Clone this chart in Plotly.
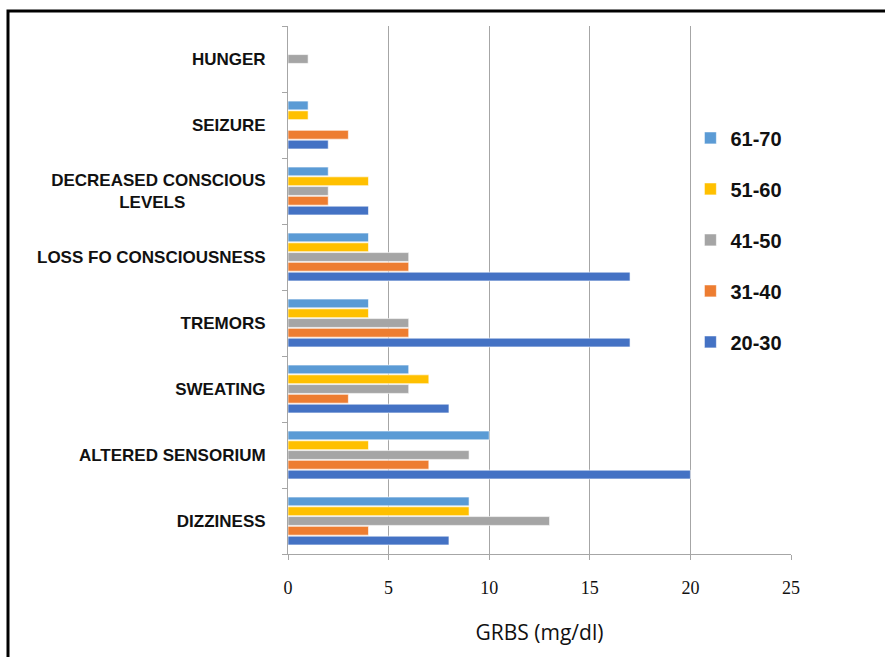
import plotly.graph_objects as go

categories = ["DIZZINESS", "ALTERED SENSORIUM", "SWEATING", "TREMORS",
              "LOSS FO CONSCIOUSNESS", "DECREASED CONSCIOUS LEVELS", "SEIZURE", "HUNGER"]
tick_text = ["DIZZINESS", "ALTERED SENSORIUM", "SWEATING", "TREMORS",
             "LOSS FO CONSCIOUSNESS",
             "DECREASED CONSCIOUS<br>LEVELS" + "\u00a0" * 17, "SEIZURE", "HUNGER"]

series_names = ["20-30", "31-40", "41-50", "51-60", "61-70"]
v_20_30 = [8, 20, 8, 17, 17, 4, 2, 0]
v_31_40 = [4, 7, 3, 6, 6, 2, 3, 0]
v_41_50 = [13, 9, 6, 6, 6, 2, 0, 1]
v_51_60 = [9, 4, 7, 4, 4, 4, 1, 0]
v_61_70 = [9, 10, 6, 4, 4, 2, 1, 0]
series_values = [v_20_30, v_31_40, v_41_50, v_51_60, v_61_70]
colors = ["#4472C4", "#ED7D31", "#A5A5A5", "#FFC000", "#5B9BD5"]
legend_ranks = [5, 4, 3, 2, 1]

x_ticks = [0, 5, 10, 15, 20, 25]

fig = go.Figure()
for name, vals, col, rank in zip(series_names, series_values, colors, legend_ranks):
    fig.add_trace(go.Bar(
        y=categories, x=vals, name=name, orientation="h",
        legendgroup=name, legendrank=rank,
        marker=dict(color=col, line=dict(color="rgba(255,255,255,0.6)", width=1)),
    ))

fig.update_layout(
    width=885, height=657,
    margin=dict(l=288, r=94, t=26, b=103),
    paper_bgcolor="white", plot_bgcolor="white",
    barmode="group", bargap=0.26, bargroupgap=0.1,
    showlegend=True,
    legend=dict(
        x=0.80, y=0.825, xanchor="left", yanchor="top",
        traceorder="grouped", tracegroupgap=22,
        font=dict(family="Liberation Sans, sans-serif", size=20, color="#111", weight="bold"),
        bgcolor="rgba(255,255,255,0)",
    ),
    shapes=[dict(type="rect", xref="paper", yref="paper",
                 x0=-280/503, x1=2, y0=-2, y1=1 + 15/528,
                 line=dict(color="black", width=3), layer="above")],
)

fig.update_xaxes(
    range=[0, 25], tickvals=x_ticks, ticktext=[str(t) for t in x_ticks],
    showgrid=True, gridcolor="#A6A6A6", gridwidth=1,
    showline=True, linecolor="#A6A6A6", linewidth=1,
    ticks="outside", ticklen=5, tickcolor="#A6A6A6",
    tickfont=dict(family="Liberation Serif, serif", size=18, color="#111"),
    ticklabelstandoff=12,
    zeroline=False,
    title=dict(text="GRBS (mg/dl)", standoff=28,
               font=dict(family="Open Sans, sans-serif", size=21, color="#111")),
)
fig.update_yaxes(
    categoryorder="array", categoryarray=categories,
    tickvals=categories, ticktext=tick_text,
    showline=True, linecolor="#A6A6A6", linewidth=1,
    ticks="outside", ticklen=5, tickcolor="#A6A6A6", tickson="boundaries",
    ticklabelstandoff=18,
    tickfont=dict(family="Liberation Sans, sans-serif", size=17, color="#111", weight="bold"),
    showgrid=False,
)

fig.write_html("out.html", post_script="document.body.style.margin='0';",
               config={"displayModeBar": False})
